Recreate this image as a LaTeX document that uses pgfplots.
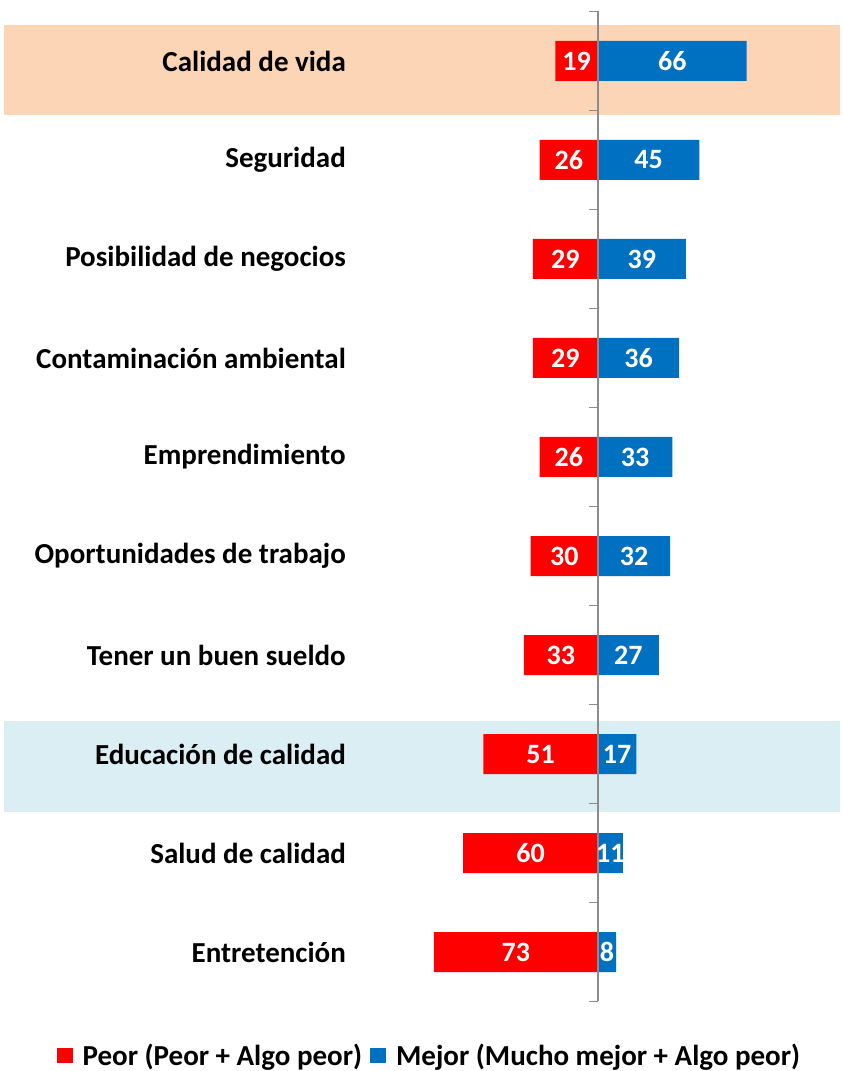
\documentclass[border=0pt]{standalone}
\usepackage{pgfplots}
\pgfplotsset{compat=1.18}
\usepackage{pgfplotstable}
\usepackage{fontspec}
\setmainfont{Carlito}
\definecolor{myred}{HTML}{FF0000}
\definecolor{myblue}{HTML}{0070C0}
\definecolor{bandorange}{HTML}{FBD5B5}
\definecolor{bandblue}{HTML}{DAEEF3}
\definecolor{axgray}{HTML}{8C8C8C}
\pgfplotstableread[col sep=semicolon]{
idx;cat;peor;mejor
0;Calidad de vida;19;66
1;Seguridad;26;45
2;Posibilidad de negocios;29;39
3;Contaminación ambiental;29;36
4;Emprendimiento;26;33
5;Oportunidades de trabajo;30;32
6;Tener un buen sueldo;33;27
7;Educación de calidad;51;17
8;Salud de calidad;60;11
9;Entretención;73;8
}\datatable
\begin{document}
\begin{tikzpicture}
\begin{axis}[
  width=842pt, height=1071pt, scale only axis,
  xmin=-265.78, xmax=108.44,
  ymin=-0.616, ymax=10.202,
  y dir=reverse,
  hide axis,
  clip=false,
  legend style={at={(rel axis cs:0.510,0.0145)}, anchor=center, draw=none, fill=none,
    font=\fontsize{29}{32}\selectfont\bfseries, legend columns=2,
    inner sep=0pt,
    /tikz/every even column/.append style={column sep=6pt},
    /tikz/every odd column/.append style={column sep=8pt}},
  legend cell align=left,
]
% force full bounding box
\path (rel axis cs:0,0) (rel axis cs:1,1);
% highlight bands
\fill[bandorange] (axis cs:-264,-0.364) rectangle (axis cs:107.6,0.545);
\fill[bandblue] (axis cs:-264,6.667) rectangle (axis cs:107.6,7.586);

\addplot[xbar, bar shift=0pt, bar width=40pt, fill=myred, draw=none,
  legend image code/.code={\fill[myred] (0pt,-8pt) rectangle (16pt,7pt);}]
  table[y=idx, x expr=-\thisrow{peor}] {\datatable};
\addlegendentry{Peor (Peor + Algo peor)}
\addplot[xbar, bar shift=0pt, bar width=40pt, fill=myblue, draw=none,
  legend image code/.code={\fill[myblue] (0pt,-8pt) rectangle (16pt,7pt);}]
  table[y=idx, x=mejor] {\datatable};
\addlegendentry{Mejor (Mucho mejor + Algo peor)}

% value labels
\addplot[draw=none, mark=none, forget plot, nodes near coords, point meta=explicit symbolic,
  nodes near coords style={anchor=center, text=white, font=\fontsize{28}{30}\selectfont\bfseries}]
  table[y=idx, x expr=-\thisrow{peor}/2, meta=peor] {\datatable};
\addplot[draw=none, mark=none, forget plot, nodes near coords, point meta=explicit symbolic,
  nodes near coords style={anchor=center, text=white, font=\fontsize{28}{30}\selectfont\bfseries}]
  table[y=idx, x expr=\thisrow{mejor}/2, meta=mejor] {\datatable};
% category labels
\addplot[draw=none, mark=none, forget plot, nodes near coords, point meta=explicit symbolic,
  nodes near coords style={anchor=east, inner sep=0pt, text=black, font=\fontsize{29}{32}\selectfont\bfseries}]
  table[y=idx, x expr=-112, meta=cat] {\datatable};

% centre axis line with ticks
\draw[axgray, line width=1.3pt] (axis cs:0,-0.505) -- (axis cs:0,9.495);
\pgfplotsinvokeforeach{-0.5,0.5,1.5,2.5,3.5,4.5,5.5,6.5,7.5,8.5,9.5}{
  \draw[axgray, line width=1.3pt] (axis cs:0,#1) -- ++(-9pt,0pt);
}
\end{axis}
\end{tikzpicture}
\end{document}
